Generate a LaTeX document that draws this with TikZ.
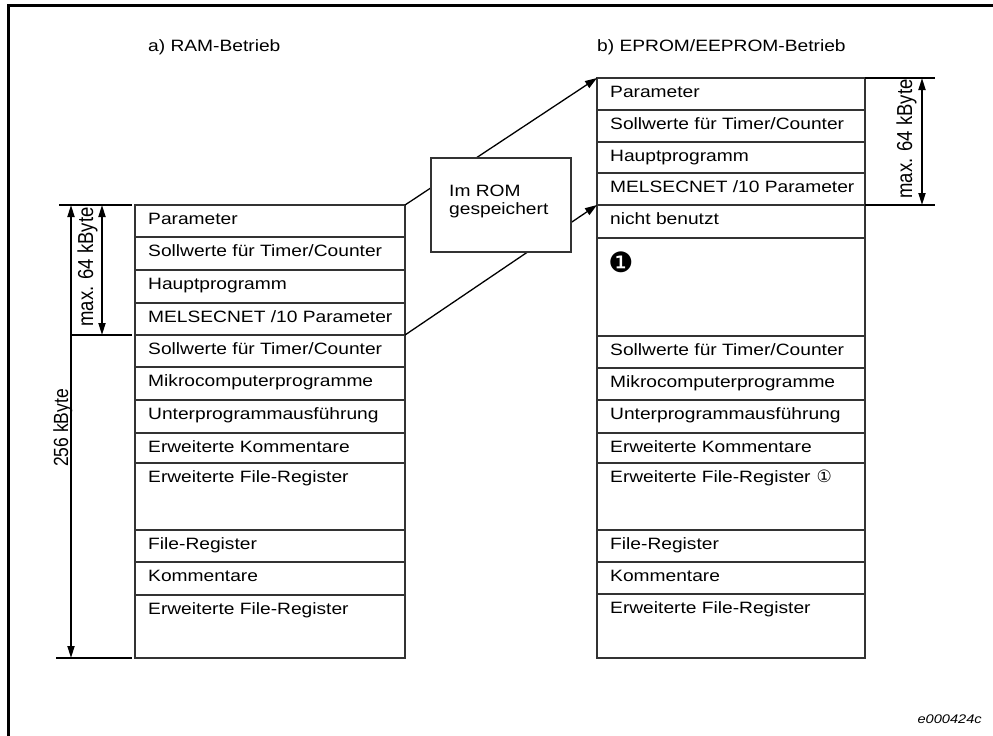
\documentclass[tikz,border=0pt]{standalone}
\usepackage{fontspec}
\usepackage{graphicx}
\usetikzlibrary{arrows.meta,fit}
\setmainfont{Liberation Sans}
\newfontfamily\labfont{Liberation Sans}[FakeStretch=1.17]
\newfontfamily\symfont{DejaVu Sans}

% one memory area: name, left x, right x, top y, bottom y, text
\newcommand\memrow[6]{%
  \node[rowbox, fit={(#2,#4)(#3,#5)}] (#1) {};
  \node[rowtext] (#1-t) at ([xshift=13pt,yshift=-19.5pt]#1.north west) {#6};
}

\begin{document}
\begin{tikzpicture}[x=1pt,y=-1pt,
  rowbox/.style={draw=black!80, line width=1.4pt, inner sep=0pt, outer sep=0pt},
  rowtext/.style={anchor=base west, inner sep=0pt, font=\labfont\fontsize{16.4}{19}\selectfont},
  title/.style={anchor=base west, inner sep=0pt, font=\labfont\fontsize{16.4}{19}\selectfont},
  conn/.style={line width=1.3pt, -{Triangle[length=12pt,width=8pt]}},
  dimarrow/.style={line width=1.8pt, {Triangle[length=12pt,width=7pt]}-{Triangle[length=12pt,width=7pt]}},
  dimtick/.style={line width=2.6pt},
  dimtext/.style={rotate=90, anchor=base, inner sep=0pt, font=\fontsize{18.5}{19}\selectfont},
  frame/.style={line width=3pt}]
\useasboundingbox (0,0) rectangle (993,736);

% page frame (top and left edges)
\coordinate (fbl) at (8,736);
\coordinate (ftl) at (8,5);
\coordinate (ftr) at (993,5);
\draw[frame] (fbl) -- (ftl) -- (ftr);

% headings
\node[title] (ta) at (148,51) {a) RAM-Betrieb};
\node[title] (tb) at (597,51) {b) EPROM/EEPROM-Betrieb};

% a) RAM operation
\memrow{l1}{135}{405}{205}{237}{Parameter}
\memrow{l2}{135}{405}{237}{270}{Sollwerte für Timer/Counter}
\memrow{l3}{135}{405}{270}{303}{Hauptprogramm}
\memrow{l4}{135}{405}{303}{335}{MELSECNET /10 Parameter}
\memrow{l5}{135}{405}{335}{367}{Sollwerte für Timer/Counter}
\memrow{l6}{135}{405}{367}{400}{Mikrocomputerprogramme}
\memrow{l7}{135}{405}{400}{433}{Unterprogrammausführung}
\memrow{l8}{135}{405}{433}{463}{Erweiterte Kommentare}
\memrow{l9}{135}{405}{463}{530}{Erweiterte File-Register}
\memrow{l10}{135}{405}{530}{562}{File-Register}
\memrow{l11}{135}{405}{562}{595}{Kommentare}
\memrow{l12}{135}{405}{595}{658}{Erweiterte File-Register}

% b) EPROM/EEPROM operation
\memrow{r1}{597}{865}{78}{110}{Parameter}
\memrow{r2}{597}{865}{110}{142}{Sollwerte für Timer/Counter}
\memrow{r3}{597}{865}{142}{173}{Hauptprogramm}
\memrow{r4}{597}{865}{173}{205}{MELSECNET /10 Parameter}
\memrow{r5}{597}{865}{205}{238}{nicht benutzt}
\memrow{r6}{597}{865}{238}{336}{}
\memrow{r7}{597}{865}{336}{368}{Sollwerte für Timer/Counter}
\memrow{r8}{597}{865}{368}{400}{Mikrocomputerprogramme}
\memrow{r9}{597}{865}{400}{433}{Unterprogrammausführung}
\memrow{r10}{597}{865}{433}{463}{Erweiterte Kommentare}
\memrow{r11}{597}{865}{463}{530}{Erweiterte File-Register\hspace{6pt}{\symfont\fontsize{17}{17}\selectfont ①}}
\memrow{r12}{597}{865}{530}{562}{File-Register}
\memrow{r13}{597}{865}{562}{594}{Kommentare}
\memrow{r14}{597}{865}{594}{658}{Erweiterte File-Register}
\node[inner sep=0pt, font=\symfont\fontsize{28}{28}\selectfont] (mark) at (621,262) {❶};

% transfer into ROM
\draw[conn] (l1.north east) -- (r1.north west);
\draw[conn] (l5.north east) -- (r5.north west);
\node[draw=black!80, fill=white, line width=1.4pt, inner sep=0pt, fit={(431,158)(571,252)}] (rom) {};
\node[anchor=base west, inner sep=0pt, align=left, font=\labfont\fontsize{16.4}{18}\selectfont] (romt) at (449,214) {Im ROM\\gespeichert};

% dimensions, RAM side
\coordinate (la1) at (59,205);  \coordinate (la2) at (132,205);
\coordinate (lb1) at (71,335);  \coordinate (lb2) at (132,335);
\coordinate (lc1) at (56,658);  \coordinate (lc2) at (132,658);
\draw[dimtick] (la1) -- (la2);
\draw[dimtick] (lb1) -- (lb2);
\draw[dimtick] (lc1) -- (lc2);
\coordinate (ld1) at (71,205);  \coordinate (ld2) at (71,658);
\coordinate (le1) at (102,205); \coordinate (le2) at (102,335);
\draw[dimarrow] (ld1) -- (ld2);
\draw[dimarrow] (le1) -- (le2);
\node[dimtext] (lmax) at (93,267) {\scalebox{1}[1.17]{max. 64 kByte}};
\node[dimtext, font=\fontsize{17.5}{19}\selectfont] (lall) at (68,428) {\scalebox{1}[1.17]{256 kByte}};

% dimensions, EPROM side
\coordinate (ra1) at (865,78);  \coordinate (ra2) at (935,78);
\coordinate (rb1) at (865,205); \coordinate (rb2) at (935,205);
\draw[dimtick] (ra1) -- (ra2);
\draw[dimtick] (rb1) -- (rb2);
\coordinate (rd1) at (922,78);  \coordinate (rd2) at (922,205);
\draw[dimarrow] (rd1) -- (rd2);
\node[dimtext] (rmax) at (912,139) {\scalebox{1}[1.17]{max. 64 kByte}};

% figure number
\node[anchor=base east, inner sep=0pt, font=\labfont\itshape\fontsize{12.5}{14}\selectfont] (fig) at (982,723) {e000424c};
\end{tikzpicture}
\end{document}
